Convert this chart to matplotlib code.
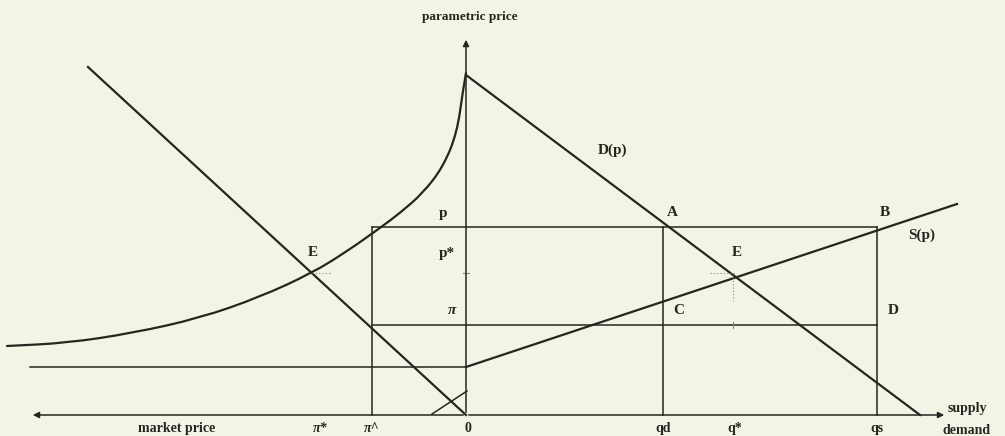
import matplotlib
matplotlib.use("Agg")
import matplotlib.pyplot as plt
from matplotlib.path import Path
from matplotlib.patches import PathPatch

# ---- data (origin at the axes crossing) ----
curve_x = [-459, -399, -333, -266, -206, -154, -120, -86, -66, -43, -23, -9, -3, 0]
curve_y = [69, 72, 82, 97, 118, 142, 163, 187, 202, 222, 248, 282, 325, 342]

left_demand_x = [-378, 0]
left_demand_y = [348, 0]

demand_x = [0, 454]
demand_y = [340, 0]

supply_x = [0, 491]
supply_y = [48, 211]

flat_x = [-436, 0]
flat_y = [48, 48]

small_x = [-34, 1]
small_y = [1, 24]

p_level = 188
pi_level = 90
pi_hat_x = -94
qd_x = 197
qs_x = 411

ticks_x = [-146, -94, 2, 197, 269, 411]
ticks_lbl = ["π*", "π^", "0", "qd", "q*", "qs"]

ink = "#262620"
bg = "#f3f3e6"

fig = plt.figure(figsize=(10.05, 4.36), dpi=100, facecolor=bg)
ax = fig.add_axes([0, 0, 1, 1])
ax.set_facecolor(bg)
ax.set_xlim(-466, 539)
ax.set_ylim(-21, 415)
ax.axis("off")

lw_main = 1.6
lw_thin = 1.1

# axes with arrows
ax.annotate("", xy=(0, 378), xytext=(0, 0),
            arrowprops=dict(arrowstyle="-|>", color=ink, lw=lw_thin, mutation_scale=9))
ax.annotate("", xy=(-436, 0), xytext=(0, 0),
            arrowprops=dict(arrowstyle="-|>", color=ink, lw=lw_thin, mutation_scale=9))
ax.annotate("", xy=(481, 0), xytext=(0, 0),
            arrowprops=dict(arrowstyle="-|>", color=ink, lw=lw_thin, mutation_scale=9))

# smooth curve through the read points (quadratic Bezier rendering)
pts = list(zip(curve_x, curve_y))
verts = [pts[0]]
codes = [Path.MOVETO]
verts.append(((pts[0][0] + pts[1][0]) / 2, (pts[0][1] + pts[1][1]) / 2))
codes.append(Path.LINETO)
for i in range(1, len(pts) - 1):
    nxt = pts[i + 1] if i == len(pts) - 2 else ((pts[i][0] + pts[i + 1][0]) / 2,
                                                 (pts[i][1] + pts[i + 1][1]) / 2)
    verts += [pts[i], nxt]
    codes += [Path.CURVE3, Path.CURVE3]
ax.add_patch(PathPatch(Path(verts, codes), facecolor="none", edgecolor=ink,
                       lw=lw_main, capstyle="round"))

ax.plot(left_demand_x, left_demand_y, color=ink, lw=lw_main)
ax.plot(demand_x, demand_y, color=ink, lw=lw_main)
ax.plot(supply_x, supply_y, color=ink, lw=lw_main)
ax.plot(flat_x, flat_y, color=ink, lw=lw_thin)
ax.plot(small_x, small_y, color=ink, lw=lw_thin)

# rectangle lines
ax.plot([pi_hat_x, qs_x], [p_level, p_level], color=ink, lw=lw_thin)
ax.plot([pi_hat_x, qs_x], [pi_level, pi_level], color=ink, lw=lw_thin)
for xv in [pi_hat_x, qd_x, qs_x]:
    ax.plot([xv, xv], [0, p_level], color=ink, lw=lw_thin)

# dotted guides
ax.plot([-154, -134], [142, 142], color="#888877", lw=0.8, ls=(0, (1, 2)))
ax.plot([244, 269], [142, 142], color="#888877", lw=0.8, ls=(0, (1, 2)))
ax.plot([267, 267], [138, 114], color="#888877", lw=0.8, ls=(0, (1, 2)))
ax.plot([267, 267], [87, 93], color="#888877", lw=0.8)
ax.plot([-3, 3], [142, 142], color="#888877", lw=0.8)

# labels
fs = 11
fam = ["Liberation Serif", "DejaVu Serif"]
kw = dict(fontsize=fs, fontweight="bold", family=fam, color=ink, ha="center", va="center")
ax.text(4, 398, "parametric price", **{**kw, "fontsize": 9.5})
ax.text(147, 265, "D(p)", **kw)
ax.text(206, 203, "A", **kw)
ax.text(419, 203, "B", **kw)
ax.text(456, 180, "S(p)", **kw)
ax.text(271, 162, "E", **kw)
ax.text(-153, 162, "E", **kw)
ax.text(213, 105, "C", **kw)
ax.text(427, 105, "D", **kw)
ax.text(-23, 202, "p", **kw)
ax.text(-19, 162, "p*", **kw)
ax.text(-14, 105, "π", **{**kw, "style": "italic"})
ax.text(-289, -13, "market price", **{**kw, "fontsize": 10})
for xv, lb in zip(ticks_x, ticks_lbl):
    st = "italic" if lb.startswith("π") else "normal"
    ax.text(xv, -13, lb, **{**kw, "fontsize": 10, "style": st})
ax.text(501, 7, "supply", **{**kw, "fontsize": 10})
ax.text(501, -15, "demand", **{**kw, "fontsize": 10})

fig.savefig("out.png", dpi=100, facecolor=bg)
